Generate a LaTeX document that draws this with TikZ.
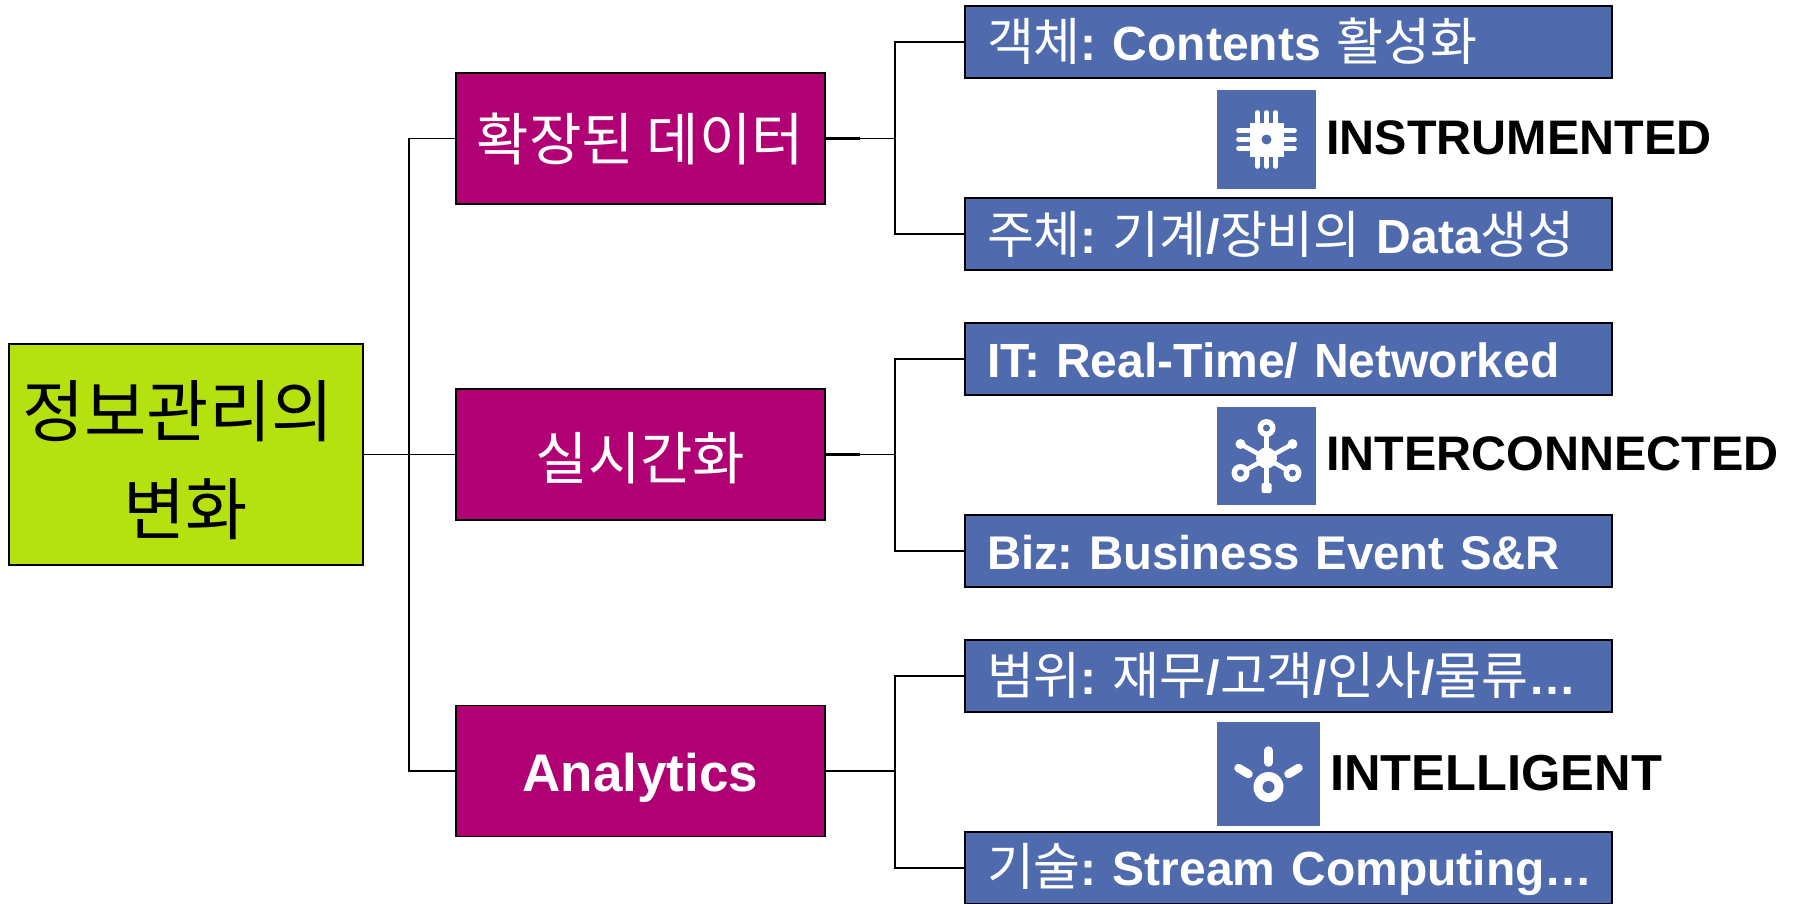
\documentclass[tikz,border=0pt]{standalone}
\usepackage{fontspec}
\setmainfont{Liberation Sans}
\newfontfamily\kr{Noto Sans CJK KR}
\newcommand{\K}[1]{{\kr\mdseries\fontsize{\krsize}{\krsize}\selectfont #1}}
\newcommand{\krsize}{51}
\newcommand{\dn}[2]{\raisebox{-#1}[\height][\depth]{#2}}
\newcommand{\lf}[2][1.5pt]{\mbox{\frenchspacing\dn{#1}{#2}}}
\definecolor{rootc}{HTML}{B5E20F}
\definecolor{midc}{HTML}{B00074}
\definecolor{leafc}{HTML}{4F6BAE}
\tikzset{x=1pt,y=-1pt,
 boxbase/.style={draw=black,line width=1.8pt,inner sep=0pt,outer sep=0pt},
 rootbox/.style={boxbase,fill=rootc,minimum width=354pt,minimum height=221pt,align=center,font=\fontsize{58}{100}\selectfont},
 midbox/.style={boxbase,fill=midc,text=white,minimum width=369pt,minimum height=131pt,align=center,font=\bfseries\fontsize{53}{60}\selectfont},
 leafbox/.style={boxbase,fill=leafc,text=white,minimum width=647pt,minimum height=72pt,text width=603pt,align=left,font=\bfseries\fontsize{48}{54}\selectfont},
 iconbox/.style={fill=leafc,inner sep=0pt,outer sep=0pt},
 tag/.style={anchor=west,inner sep=0pt,font=\bfseries\fontsize{48.5}{54}\selectfont},
 link/.style={line width=1.8pt,draw=black},
 stub/.style={line width=2.8pt,draw=black},
 ico/.style={line width=5pt,draw=white,line cap=round},
 icothick/.style={line width=8.5pt,draw=white,line cap=round}
}
\begin{document}
\begin{tikzpicture}
\useasboundingbox (0,0) rectangle (1794,903);
\clip (0,0) rectangle (1794,903);
\fill[white] (0,0) rectangle (1794,903);
% nodes
\renewcommand{\krsize}{67.7}
\node[rootbox] (root) at (186,454.5) {\dn{6pt}{\K{정보관리의}}\hspace*{16pt}\\[-2pt]\dn{6pt}{\K{변화}}};
\renewcommand{\krsize}{57}
\node[midbox] (m1) at (640.5,138.5) {\dn{0pt}{\K{확장된 데이터}}};
\node[midbox] (m2) at (640.5,454.5) {\dn{4pt}{\K{실시간화}}};
\node[midbox] (m3) at (640.5,771) {\dn{7pt}{Analytics}};
\renewcommand{\krsize}{51}
\node[leafbox] (l1) at (1288.5,42) {\lf[-1pt]{\K{객체}: Contents \K{활성화}}};
\node[leafbox] (l2) at (1288.5,234) {\lf[0pt]{\K{주체}: \K{기계}/\K{장비의} Data\K{생성}}};
\node[leafbox] (l3) at (1288.5,359) {\lf{IT: Real-Time/ Networked}};
\node[leafbox,font=\bfseries\fontsize{47.3}{54}\selectfont] (l4) at (1288.5,551) {\lf{Biz: Business Event S\&R}};
\node[leafbox] (l5) at (1288.5,676) {\lf[-1pt]{\K{범위}: \K{재무}/\K{고객}/\K{인사}/\K{물류}…}};
\node[leafbox] (l6) at (1288.5,868) {\lf{\K{기술}: Stream Computing…}};
% connectors
\coordinate (t0) at (409,454.5);
\draw[link] (root.east) -- (m2.west);
\draw[link] (m1.west) -| (t0) |- (m3.west);
\foreach \m/\a/\b in {m1/l1/l2,m2/l3/l4,m3/l5/l6}{
  \coordinate (j) at (895,0);
  \draw[link] (\m.east) -- (\m.east -| j);
  \draw[stub] (\m.east) -- ([xshift=35pt]\m.east);
  \draw[link] (\a.west) -| (j |- \m.east) |- (\b.west);
}
% icon 1
\node[iconbox,minimum width=99pt,minimum height=99pt] (i1) at (1266.5,139.5) {};
\node[tag] (t1) at (1326,138) {INSTRUMENTED};
\begin{scope}[shift={(i1.center)}]
 \foreach \d in {-9,0,9}{
  \draw[ico,line width=4.6pt] (\d,-27) -- (\d,27);
  \draw[ico,line width=4.6pt] (-28,\d) -- (28,\d);
 }
 \fill[white] (-17,-17) rectangle (17,17);
 \fill[leafc] (0,0) circle (5);
\end{scope}
% icon 2
\node[iconbox,minimum width=99pt,minimum height=98pt] (i2) at (1266.5,456) {};
\node[tag] (t2) at (1326,454) {INTERCONNECTED};
\begin{scope}[shift={(i2.center)},yshift=-2pt]
 \draw[ico,line width=4.5pt] (0,-30) -- (0,30);
 \draw[ico,line width=4.5pt] (-26,-14) -- (26,15);
 \draw[ico,line width=4.5pt] (26,-14) -- (-26,15);
 \fill[white] (0,0) circle (10.5);
 \foreach \p in {{(0,-30)},{(-26,15)},{(26,15)}}{
   \fill[white] \p circle (9);
   \fill[leafc] \p circle (3.5);
 }
 \fill[white] (-26,-14) circle (5) (26,-14) circle (5);
 \fill[white,rounded corners=2pt] (-5,25) rectangle (5,35);
\end{scope}
% icon 3
\node[iconbox,minimum width=103pt,minimum height=104pt] (i3) at (1268.5,774) {};
\node[tag,font=\bfseries\fontsize{50.6}{54}\selectfont] (t3) at (1330,773) {INTELLIGENT};
\begin{scope}[shift={(i3.center)}]
 \draw[icothick] (0,-23.5) -- (0,-11.5);
 \draw[icothick] (-30,-6) -- (-20,0);
 \draw[icothick] (30,-6) -- (20,0);
 \fill[white] (0,13) circle (15);
 \fill[leafc] (0,13) circle (6);
\end{scope}
\end{tikzpicture}
\end{document}
